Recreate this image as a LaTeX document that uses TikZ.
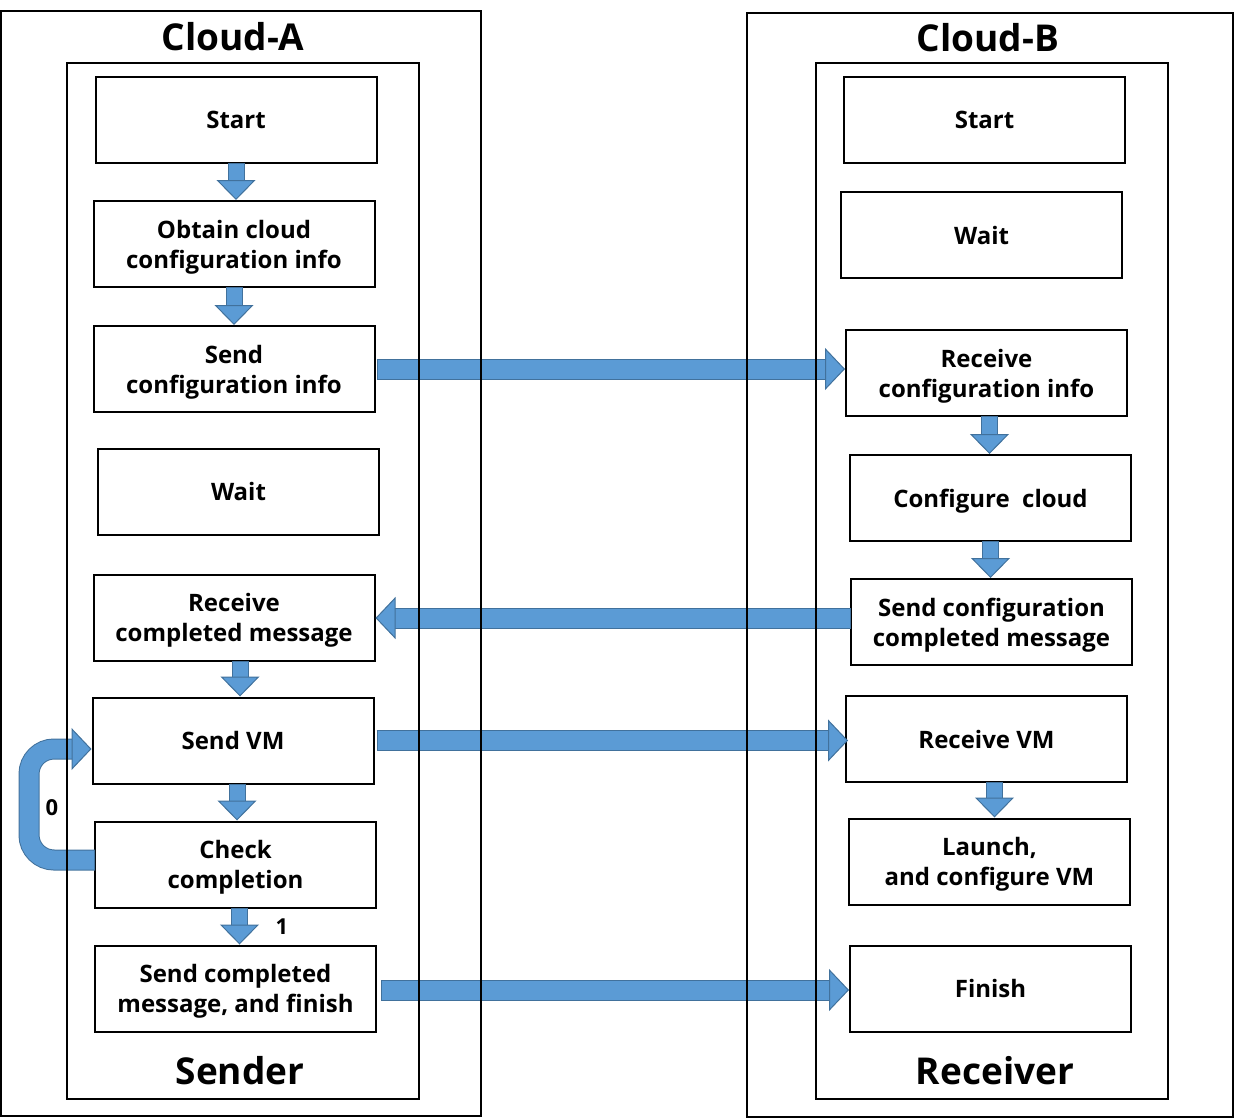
\documentclass[tikz,border=0pt]{standalone}
\usepackage{fontspec}
\setmainfont{Open Sans}
\usetikzlibrary{arrows.meta,positioning}

\definecolor{flowfill}{HTML}{5B9BD5}
\definecolor{flowline}{HTML}{41719C}

\begin{document}
\begin{tikzpicture}[
  x=1pt, y=-1pt,
  box/.style={draw, line width=2pt, minimum width=281pt, minimum height=86pt, inner sep=2pt, font=\fontsize{24}{30}\selectfont\bfseries, align=center,
    text depth=-3pt},
  frame/.style={draw, line width=2pt},
  title/.style={font=\fontsize{37}{40}\selectfont\bfseries},
  flag/.style={font=\fontsize{22}{24}\selectfont\bfseries},
  hflow/.style={draw=flowfill, line width=19pt,
    -{Triangle[width=42pt,length=20pt,line width=1pt,color=flowline,fill=flowfill]},
    preaction={draw=flowline, line width=21pt, arrows=-, shorten >=19pt, shorten <=-1pt}},
  vflow/.style={draw=flowfill, line width=15pt,
    -{Triangle[width=39pt,length=20pt,line width=1pt,color=flowline,fill=flowfill]},
    preaction={draw=flowline, line width=17pt, arrows=-, shorten >=19pt, shorten <=-1pt}},
]

\useasboundingbox (0,0) rectangle (1235,1119);

% Cloud-A (sender)
\node[box] (LStart) at (236,119.5)   {Start};
\node[box] (LObtain) at (234,244)    {Obtain cloud\\configuration info};
\node[box] (LSend) at (234,369)      {Send\\configuration info};
\node[box] (LWait) at (238.5,491.5)  {Wait};
\node[box] (LRecv) at (234,617.5)    {Receive\\completed message};
\node[box] (LVM) at (233,740.5)      {Send VM};
\node[box] (LCheck) at (235.5,864.5) {Check\\completion};
\node[box] (LFin) at (235.5,988.5)   {Send completed\\message, and finish};

% Cloud-B (receiver)
\node[box] (RStart) at (984.5,119.5)  {Start};
\node[box] (RWait) at (981.5,235)     {Wait};
\node[box] (RRecv) at (986.5,373)     {Receive\\configuration info};
\node[box] (RConf) at (990.5,498)     {Configure\ \ cloud};
\node[box] (RSend) at (991.5,622)     {Send configuration\\completed message};
\node[box] (RVM) at (986.5,739)       {Receive VM};
\node[box] (RLaunch) at (989.5,861.5) {Launch,\\and configure VM};
\node[box] (RFin) at (990.5,988.5)    {Finish};

% steps inside each cloud
\draw[vflow] (LStart.south) -- (LStart.south |- LObtain.north);
\draw[vflow] (LObtain.south) -- (LObtain.south |- LSend.north);
\draw[vflow] ([xshift=6pt]LRecv.south) -- ([xshift=6pt]LRecv.south |- LVM.north);
\draw[vflow] ([xshift=4pt]LVM.south) -- ([xshift=4pt]LVM.south |- LCheck.north);
\draw[vflow] ([xshift=4pt]LCheck.south) -- ([xshift=4pt]LCheck.south |- LFin.north);
\draw[vflow] ([xshift=3pt]RRecv.south) -- ([xshift=3pt]RRecv.south |- RConf.north);
\draw[vflow] (RConf.south) -- (RConf.south |- RSend.north);
\draw[vflow] ([xshift=8pt]RVM.south) -- ([xshift=8pt]RVM.south |- RLaunch.north);

% retry loop
\draw[hflow, rounded corners=25pt] ([yshift=4.5pt]LCheck.west) -- ++(-65,0) |- ([yshift=-8.5pt]LVM.west);
\node[flag] (Zero) at (52,808) {0};
\node[flag] (One) at (282,927) {1};

% messages between clouds
\draw[hflow] ([xshift=2pt]LSend.east) -- (LSend.east -| RRecv.west);
\draw[hflow] ([yshift=4pt]RSend.west) -- ([yshift=4pt]RSend.west -| LRecv.east);
\draw[hflow] ([xshift=3pt]LVM.east) -- ([xshift=3pt]LVM.east -| RVM.west);
\draw[hflow] ([xshift=5pt,yshift=-1.5pt]LFin.east) -- ([yshift=-1.5pt]LFin.east -| RFin.west);

% frames
\draw[frame] (1,11) rectangle (481,1116);
\draw[frame] (67,63) rectangle (419,1099);
\draw[frame] (747,13) rectangle (1233,1117);
\draw[frame] (816,63) rectangle (1168,1099);

\node[title] (CloudA) at (233,37) {Cloud-A};
\node[title] (CloudB) at (988,38) {Cloud-B};
\node[title] (Sender) at (240,1071) {Sender};
\node[title] (Receiver) at (995,1071) {Receiver};

\end{tikzpicture}
\end{document}
